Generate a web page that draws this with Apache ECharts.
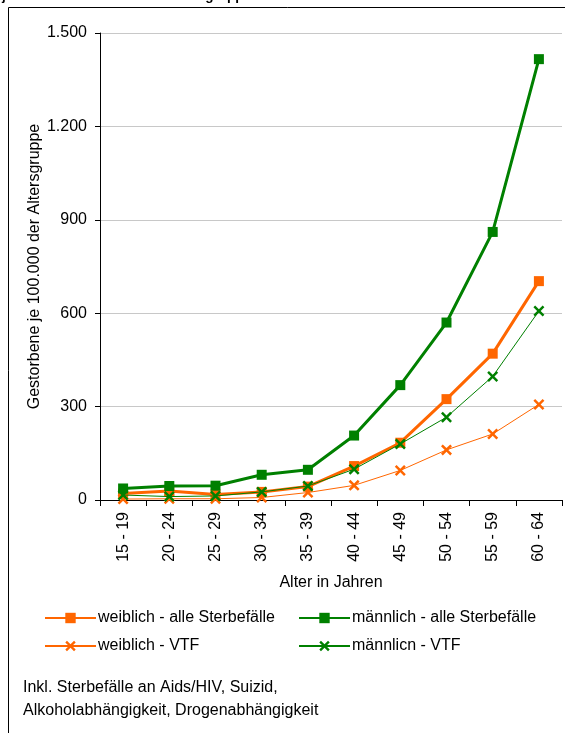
<!DOCTYPE html>
<html>
<head>
<meta charset="utf-8">
<script src="https://cdn.jsdelivr.net/npm/echarts@6/dist/echarts.min.js"></script>
<style>html,body{margin:0;padding:0;background:#fff}#c{width:565px;height:733px}</style>
</head>
<body>
<div id="c"></div>
<script>
var categories = ['15 - 19','20 - 24','25 - 29','30 - 34','35 - 39','40 - 44','45 - 49','50 - 54','55 - 59','60 - 64'];
var weiblichAlle = [21, 29, 18, 26, 43, 109, 184, 324, 470, 703];
var maennlichAlle = [37, 45, 46, 81, 97, 207, 369, 570, 861, 1416];
var weiblichVTF = [3, 4, 4, 8, 24, 47, 95, 161, 212, 307];
var maennlichVTF = [16, 11, 13, 26, 45, 99, 180, 266, 397, 607];
var yTickLabels = ['0','300','600','900','1.200','1.500'];
var seriesNames = ['weiblich - alle Sterbefälle','männlich - alle Sterbefälle','weiblich - VTF','männlicn - VTF'];

var FONT = 'Liberation Sans, Arial, sans-serif';
var FS = 16;
var ORANGE = '#FF6600', GREEN = '#008000';
var XSYM = 'path://M0,1.6L1.6,0L5,3.4L8.4,0L10,1.6L6.6,5L10,8.4L8.4,10L5,6.6L1.6,10L0,8.4L3.4,5Z';

var chart = echarts.init(document.getElementById('c'), null, {renderer:'canvas'});
var option = {
  animation: false,
  backgroundColor: '#fff',
  textStyle: {fontFamily: FONT, color: '#000'},
  grid: {left: 100, top: 33, right: 3, bottom: 233, containLabel: false},
  xAxis: {
    type: 'category', data: categories, boundaryGap: true,
    name: 'Alter in Jahren', nameLocation: 'middle', nameGap: 75,
    nameTextStyle: {fontFamily: FONT, fontSize: FS, color: '#000'},
    axisLine: {lineStyle: {color: '#000', width: 1}},
    axisTick: {show: true, length: 6, lineStyle: {color: '#000'}},
    axisLabel: {rotate: 90, fontFamily: FONT, fontSize: FS, color: '#000', margin: 12},
    splitLine: {show: false}
  },
  yAxis: {
    type: 'value', min: 0, max: 1500, interval: 300,
    name: 'Gestorbene je 100.000 der Altersgruppe', nameLocation: 'middle', nameGap: 57,
    nameMoveOverlap: false,
    nameTextStyle: {fontFamily: FONT, fontSize: FS, color: '#000'},
    axisLine: {show: true, lineStyle: {color: '#000', width: 1}},
    axisTick: {show: true, length: 5, lineStyle: {color: '#000'}},
    axisLabel: {fontFamily: FONT, fontSize: FS, color: '#000', margin: 13,
      formatter: function(v){ return yTickLabels[Math.round(v/300)]; }},
    splitLine: {show: true, lineStyle: {color: '#C8C8C8', width: 1}}
  },
  legend: [
    {orient: 'vertical', left: 44, top: 610, padding: 0, itemWidth: 51, itemHeight: 13, itemGap: 12,
     data: [seriesNames[0], seriesNames[2]],
     textStyle: {fontFamily: FONT, fontSize: FS, color: '#000', padding: [0,0,0,-3]}},
    {orient: 'vertical', left: 298, top: 610, padding: 0, itemWidth: 51, itemHeight: 13, itemGap: 12,
     data: [seriesNames[1], seriesNames[3]],
     textStyle: {fontFamily: FONT, fontSize: FS, color: '#000', padding: [0,0,0,-3]}}
  ],
  series: [
    {name: seriesNames[0], type: 'line', data: weiblichAlle, symbol: 'rect', symbolSize: 10,
     lineStyle: {color: ORANGE, width: 3}, itemStyle: {color: ORANGE}, z: 3},
    {name: seriesNames[1], type: 'line', data: maennlichAlle, symbol: 'rect', symbolSize: 10,
     lineStyle: {color: GREEN, width: 3}, itemStyle: {color: GREEN}, z: 4},
    {name: seriesNames[2], type: 'line', data: weiblichVTF, symbol: XSYM, symbolSize: 11,
     lineStyle: {color: ORANGE, width: 1}, itemStyle: {color: ORANGE}, z: 2},
    {name: seriesNames[3], type: 'line', data: maennlichVTF, symbol: XSYM, symbolSize: 11,
     lineStyle: {color: GREEN, width: 1}, itemStyle: {color: GREEN}, z: 5}
  ],
  graphic: [
    {type: 'rect', shape: {x: 8.5, y: 7.5, width: 700, height: 900},
     style: {fill: 'none', stroke: '#000', lineWidth: 1}, silent: true, z: 100},
    {type: 'text', left: 2, top: -11,
     style: {text: 'je 100.000 Einwohner der Altersgruppe', font: 'bold 13.5px ' + FONT, fill: '#000'}},
    {type: 'text', left: 23, top: 680,
     style: {text: 'Inkl. Sterbefälle an Aids/HIV, Suizid,', font: FS + 'px ' + FONT, fill: '#000'}},
    {type: 'text', left: 23, top: 703,
     style: {text: 'Alkoholabhängigkeit, Drogenabhängigkeit', font: FS + 'px ' + FONT, fill: '#000'}}
  ]
};
chart.setOption(option);
</script>
</body>
</html>
